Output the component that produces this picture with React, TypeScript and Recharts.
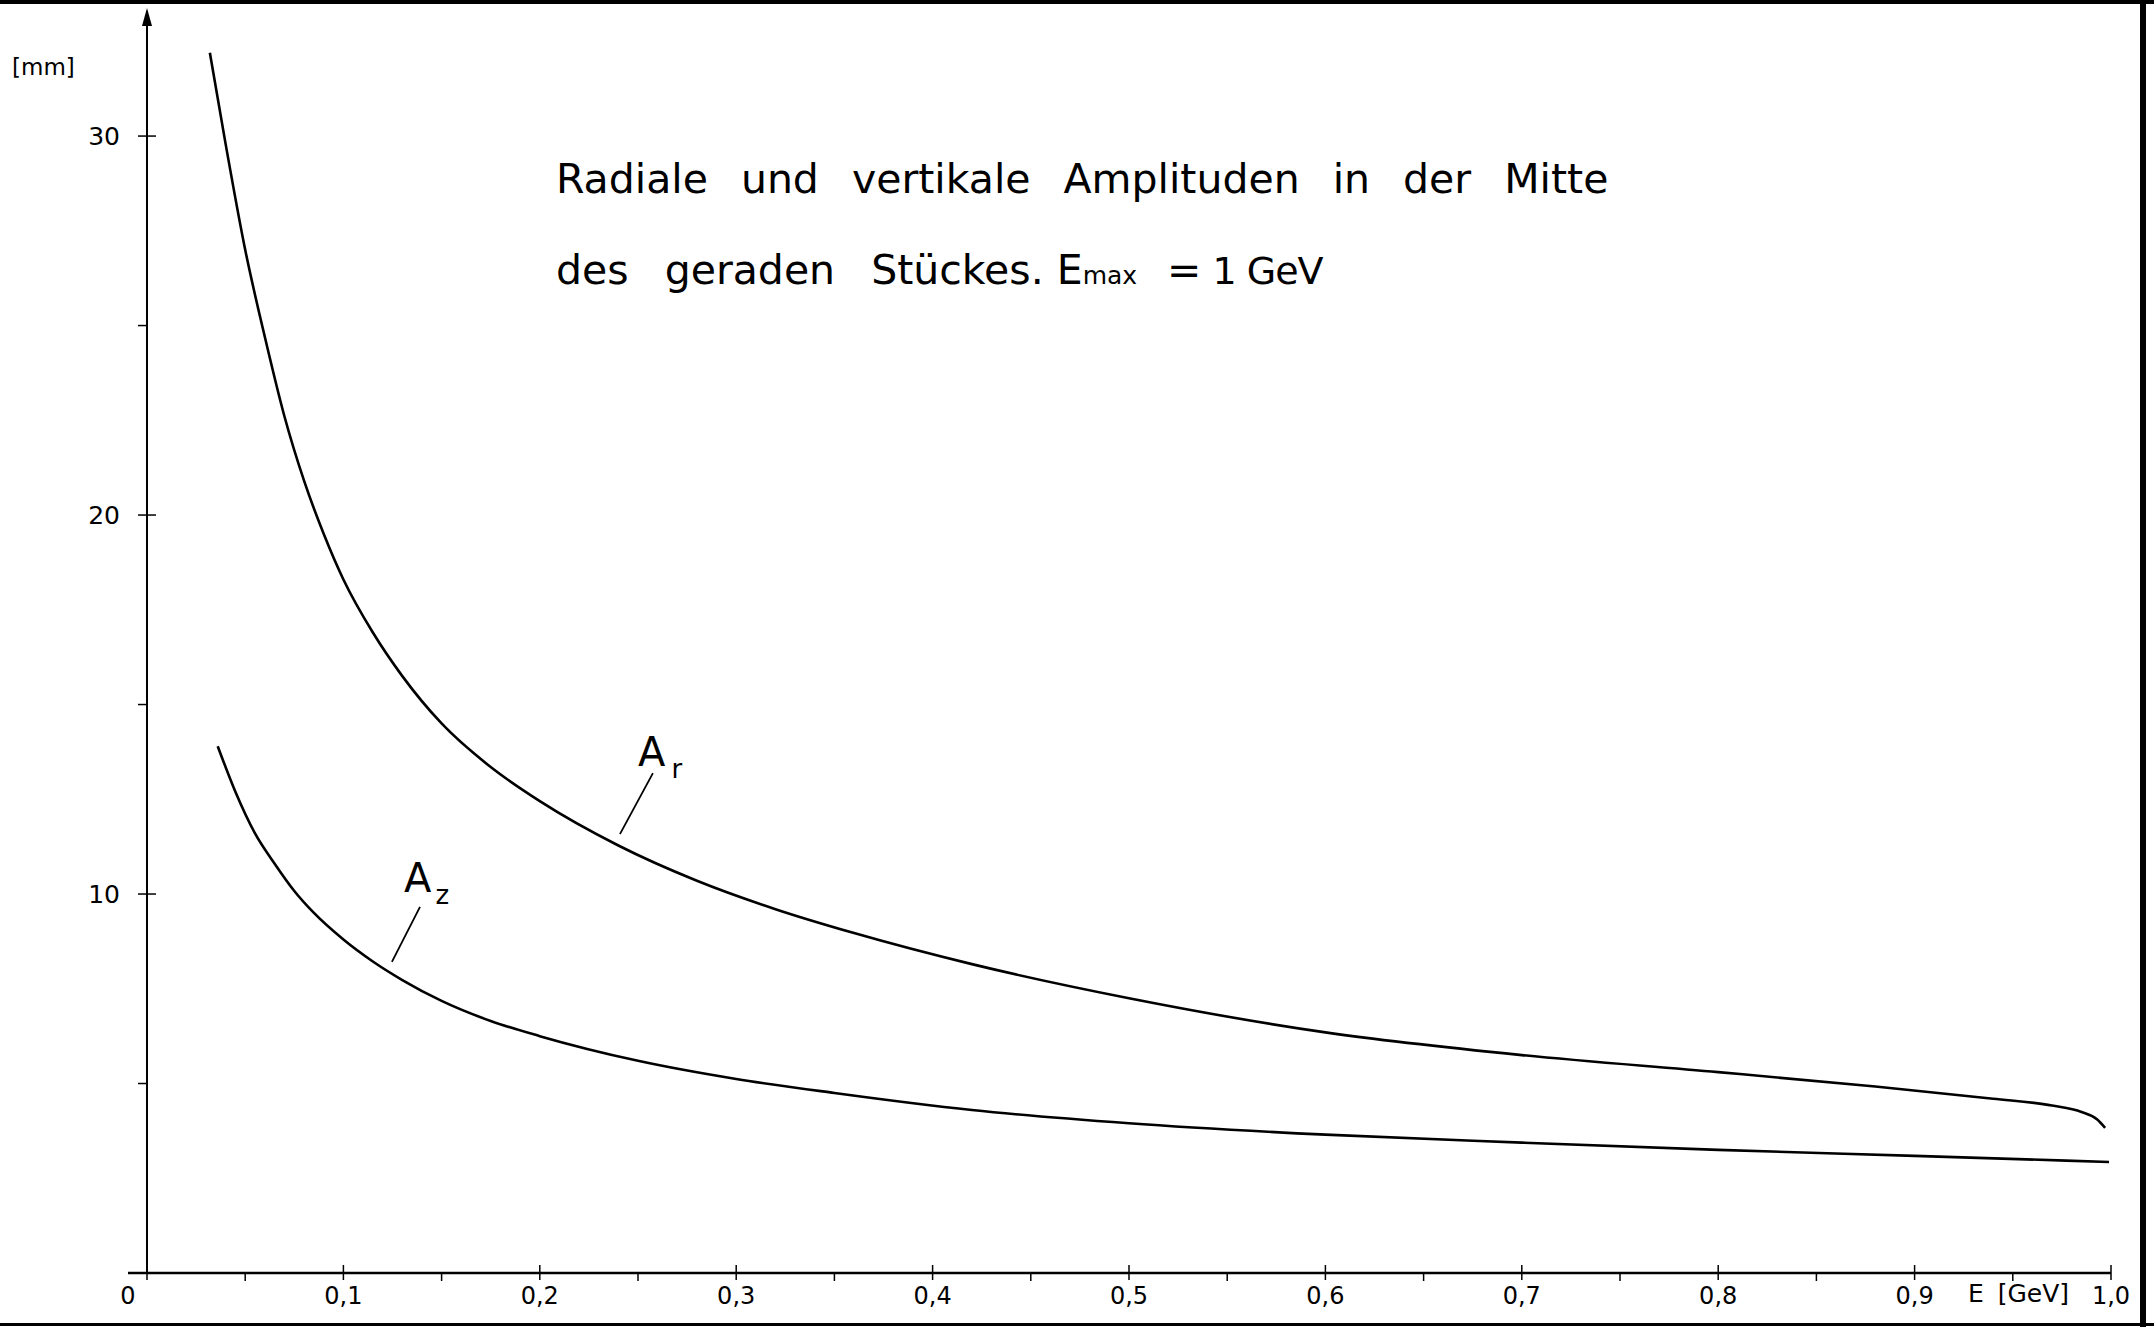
import React from 'react';
import { Line, LineChart, ReferenceLine, XAxis, YAxis } from 'recharts';

// radial amplitude A_r (mm) vs energy E (GeV)
const arEnergy = [
	0.032, 0.04, 0.05, 0.06, 0.07, 0.08, 0.09, 0.1, 0.115, 0.13, 0.15, 0.175, 0.2, 0.24, 0.28, 0.32,
	0.36, 0.42, 0.5, 0.6, 0.7, 0.8, 0.88, 0.94, 0.97, 0.985, 0.993, 0.997,
];
const arAmplitude = [
	32.2, 29.8, 27.0, 24.7, 22.6, 20.9, 19.5, 18.3, 16.9, 15.75, 14.5, 13.35, 12.45, 11.28, 10.35, 9.6,
	8.97, 8.15, 7.25, 6.35, 5.75, 5.3, 4.92, 4.6, 4.42, 4.25, 4.05, 3.83,
];

// vertical amplitude A_z (mm) vs energy E (GeV)
const azEnergy = [
	0.036, 0.045, 0.055, 0.065, 0.075, 0.085, 0.1, 0.115, 0.13, 0.15, 0.175, 0.2, 0.25, 0.3, 0.35,
	0.42, 0.5, 0.6, 0.7, 0.8, 0.9, 0.999,
];
const azAmplitude = [
	13.9, 12.7, 11.6, 10.8, 10.08, 9.5, 8.8, 8.22, 7.73, 7.18, 6.65, 6.25, 5.6, 5.12, 4.75, 4.3, 3.95,
	3.65, 3.44, 3.25, 3.09, 2.93,
];

const xMajor = [0, 0.1, 0.2, 0.3, 0.4, 0.5, 0.6, 0.7, 0.8, 0.9, 1.0];
const xLabels = ['0', '0,1', '0,2', '0,3', '0,4', '0,5', '0,6', '0,7', '0,8', '0,9', '1,0'];
const xMinor = [0.05, 0.15, 0.25, 0.35, 0.45, 0.55, 0.65, 0.75, 0.85, 0.95];
const yTicks = [5, 10, 15, 20, 25, 30];
const yLabels = ['', '10', '', '20', '', '30'];

// leader lines from the curve labels to the curves
const arLeader = [
	{ x: 0.2576, y: 13.19 },
	{ x: 0.2408, y: 11.58 },
];
const azLeader = [
	{ x: 0.139, y: 9.66 },
	{ x: 0.1247, y: 8.21 },
];

const arData = arEnergy.map((e, i) => ({ e, v: arAmplitude[i] }));
const azData = azEnergy.map((e, i) => ({ e, v: azAmplitude[i] }));

const FONT = '"DejaVu Sans", sans-serif';

const XTick = (props: any) => {
	const { x, y, payload } = props;
	const idx = xMajor.findIndex((m) => Math.abs(m - payload.value) < 1e-6);
	if (idx < 0) {
		return <line stroke="#000" strokeWidth={1.5} x1={x} x2={x} y1={y} y2={y + 8} />;
	}
	return (
		<g>
			<line stroke="#000" strokeWidth={1.5} x1={x} x2={x} y1={y - 8} y2={y + 7} />
			<text fill="#000" fontFamily={FONT} fontSize={24} textAnchor="middle" x={idx === 0 ? x - 19 : x} y={y + 31}>
				{xLabels[idx]}
			</text>
		</g>
	);
};

const YTick = (props: any) => {
	const { x, y, payload } = props;
	const idx = yTicks.indexOf(payload.value);
	const label = idx >= 0 ? yLabels[idx] : '';
	return (
		<g>
			<line stroke="#000" strokeWidth={1.5} x1={x - 9} x2={label ? x + 9 : x} y1={y} y2={y} />
			{label && (
				<text dominantBaseline="central" fill="#000" fontFamily={FONT} fontSize={25} textAnchor="end" x={x - 27} y={y}>
					{label}
				</text>
			)}
		</g>
	);
};

const abs = (left: number, top: number, extra: React.CSSProperties = {}): React.CSSProperties => ({
	position: 'absolute',
	left,
	top,
	fontFamily: FONT,
	color: '#000',
	whiteSpace: 'nowrap',
	lineHeight: 1,
	...extra,
});

export default function App() {
	return (
		<div style={{ position: 'absolute', left: 0, top: 0, width: 2154, height: 1327, background: '#fff' }}>
			<LineChart height={1327} margin={{ bottom: 0, left: 0, right: 43, top: 11 }} width={2154}>
				<XAxis
					allowDataOverflow
					axisLine={{ stroke: '#000', strokeWidth: 2.5 }}
					dataKey="e"
					domain={[0, 1]}
					height={54}
					interval={0}
					tick={<XTick />}
					tickLine={false}
					tickMargin={0}
					tickSize={0}
					ticks={[...xMajor, ...xMinor].sort((a, b) => a - b)}
					type="number"
				/>
				<YAxis
					axisLine={{ stroke: '#000', strokeWidth: 2 }}
					dataKey="v"
					domain={[0, 33.3]}
					interval={0}
					tick={<YTick />}
					tickLine={false}
					tickMargin={0}
					tickSize={0}
					ticks={yTicks}
					type="number"
					width={147}
				/>
				<ReferenceLine segment={arLeader} stroke="#000" strokeWidth={1.8} />
				<ReferenceLine segment={azLeader} stroke="#000" strokeWidth={1.8} />
				<Line data={arData} dataKey="v" dot={false} isAnimationActive={false} stroke="#000" strokeWidth={2.6} type="monotone" />
				<Line data={azData} dataKey="v" dot={false} isAnimationActive={false} stroke="#000" strokeWidth={2.6} type="monotone" />
			</LineChart>

			<svg height={1327} style={{ position: 'absolute', left: 0, top: 0, pointerEvents: 'none' }} width={2154}>
				<rect fill="#000" height={4} width={2154} x={0} y={0} />
				<rect fill="#000" height={1327} width={6} x={2140} y={0} />
				<rect fill="#000" height={3} width={2154} x={0} y={1323} />
				<line stroke="#000" strokeWidth={2.5} x1={128} x2={147} y1={1273} y2={1273} />
				<polygon fill="#000" points="147,8 142,26 152,26" />
			</svg>

			<div style={abs(12, 56, { fontSize: 23 })}>[mm]</div>
			<div style={abs(556, 159, { fontSize: 41, wordSpacing: 20 })}>
				Radiale und vertikale Amplituden in der Mitte
			</div>
			<div style={abs(556, 250, { fontSize: 41 })}>
				<span style={{ wordSpacing: 23 }}>des geraden Stückes.</span> E
				<span style={{ fontSize: 25 }}>max</span>
				<span style={{ marginLeft: 30 }}>=</span>
				<span style={{ fontSize: 38, letterSpacing: -1 }}> 1 GeV</span>
			</div>
			<div style={abs(638, 732, { fontSize: 40 })}>
				A<span style={{ fontSize: 26, marginLeft: 6, position: 'relative', top: 12 }}>r</span>
			</div>
			<div style={abs(404, 858, { fontSize: 40 })}>
				A<span style={{ fontSize: 26, marginLeft: 4, position: 'relative', top: 12 }}>z</span>
			</div>
			<div style={abs(1968, 1281, { fontSize: 25, wordSpacing: 6 })}>E [GeV]</div>
		</div>
	);
}
